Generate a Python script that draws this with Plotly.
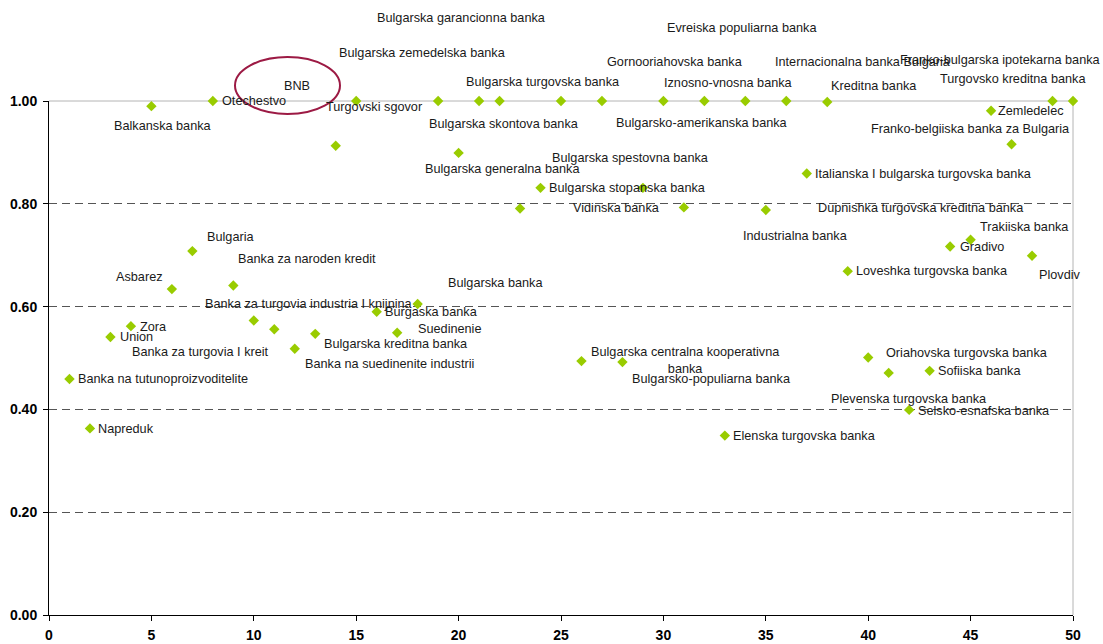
import plotly.graph_objects as go

# ---- data ----
bank_index = list(range(1, 51))
ratio = [0.459, 0.363, 0.541, 0.562, 0.990, 0.634, 0.708, 1.000, 0.641, 0.573,
         0.556, 0.518, 0.547, 0.913, 1.000, 0.590, 0.549, 0.605, 1.000, 0.899,
         1.000, 1.000, 0.791, 0.831, 1.000, 0.494, 1.000, 0.492, 0.831, 1.000,
         0.793, 1.000, 0.349, 1.000, 0.788, 1.000, 0.859, 0.998, 0.669, 0.501,
         0.471, 0.399, 0.475, 0.717, 0.730, 0.981, 0.916, 0.699, 1.000, 1.000]
bank_names = [
    "Banka na tutunoproizvoditelite", "Napreduk", "Union", "Zora", "Balkanska banka",
    "Asbarez", "Bulgaria", "Otechestvo", "Banka za naroden kredit", "Banka za turgovia I kreit",
    "Banka za turgovia industria I knijnina", "Banka na suedinenite industrii",
    "Bulgarska kreditna banka", "BNB", "Turgovski sgovor", "Burgaska banka", "Suedinenie",
    "Bulgarska banka", "Bulgarska zemedelska banka", "Bulgarska generalna banka",
    "Bulgarska garancionna banka", "Bulgarska turgovska banka", "Bulgarska skontova banka",
    "Bulgarska stopanska banka", "Bulgarska spestovna banka",
    "Bulgarska centralna kooperativna<br>banka", "Vidinska banka",
    "Bulgarsko-populiarna banka", "Gornooriahovska banka", "Evreiska populiarna banka",
    "Iznosno-vnosna banka", "Bulgarsko-amerikanska banka", "Elenska turgovska banka",
    "Internacionalna banka Bulgaria", "Kreditna banka", "Industrialna banka",
    "Italianska I bulgarska turgovska banka", "Dupnishka turgovska kreditna banka",
    "Loveshka turgovska banka", "Oriahovska turgovska banka", "Plevenska turgovska banka",
    "Selsko-esnafska banka", "Sofiiska banka", "Gradivo", "Trakiiska banka", "Zemledelec",
    "Franko-belgiiska banka za Bulgaria", "Plovdiv", "Franko-bulgarska ipotekarna banka",
    "Turgovsko kreditna banka"]
y_ticks = [0.0, 0.2, 0.4, 0.6, 0.8, 1.0]
x_ticks = [0, 5, 10, 15, 20, 25, 30, 35, 40, 45, 50]

# ---- label placement (pixel centre of each label, layout only) ----
label_px = [
    (163, 379), (126, 429), (136, 337), (153, 327), (163, 126),
    (139, 277), (230, 237), (254, 101), (307, 259), (200, 352),
    (309, 304), (389, 364), (396, 344), (297, 86), (374, 107),
    (431, 312), (450, 329), (495, 283), (422, 53), (502, 169),
    (461, 18), (543, 82), (504, 124), (627, 188), (630, 158),
    (685, 361), (616, 208), (711, 379), (675, 62), (742, 28),
    (728, 83), (702, 123), (804, 436), (863, 62), (874, 86),
    (795, 236), (923, 174), (921, 208), (932, 271), (967, 353),
    (909, 399), (984, 411), (979, 371), (982, 247), (1024, 227),
    (1031, 111), (970, 129), (1060, 275), (1000, 60), (1013, 79)]

L, R, T, B = 49, 30, 101, 29
W, H = 1103, 644
pw, ph = W - L - R, H - T - B
FONT = "Liberation Sans, Arial"

fig = go.Figure()
fig.add_trace(go.Scatter(
    x=bank_index, y=ratio, mode="markers",
    marker=dict(symbol="diamond", size=8, color="#99cc00", line=dict(width=0)),
    cliponaxis=False, hoverinfo="text", text=bank_names, showlegend=False))

annotations = []
for xi, yi, name, (lx, ly) in zip(bank_index, ratio, bank_names, label_px):
    px = L + xi / 50 * pw
    py = T + (1 - yi) * ph
    annotations.append(dict(
        x=xi, y=yi, xref="x", yref="y", text=name, showarrow=False,
        xanchor="center", yanchor="middle", align="center",
        xshift=lx - px, yshift=-(ly - py),
        font=dict(family=FONT, size=12.7, color="#1a1a1a")))

shapes = [
    # top and right plot-area border (light grey)
    dict(type="line", xref="paper", yref="paper", x0=0, x1=1, y0=1, y1=1,
         line=dict(color="#b4b4b4", width=1), layer="below"),
    dict(type="line", xref="paper", yref="paper", x0=1, x1=1, y0=0, y1=1,
         line=dict(color="#b4b4b4", width=1), layer="below"),
    # ellipse around BNB
    dict(type="circle", xref="paper", yref="paper",
         x0=(235 - L) / pw, x1=(340 - L) / pw,
         y0=(H - B - 114) / ph, y1=(H - B - 57) / ph,
         line=dict(color="#9c1a44", width=2)),
]

fig.update_layout(
    width=W, height=H,
    margin=dict(l=L, r=R, t=T, b=B, autoexpand=False),
    paper_bgcolor="white", plot_bgcolor="white",
    annotations=annotations, shapes=shapes,
    xaxis=dict(range=[0, 50], tickvals=x_ticks, ticktext=[str(v) for v in x_ticks],
               showgrid=False, zeroline=False, showline=True, linecolor="black",
               linewidth=1, ticks="outside", ticklen=5, tickcolor="black",
               ticklabelstandoff=2, automargin=False,
               tickfont=dict(family=FONT, size=14, color="black", weight="bold"),
               fixedrange=True),
    yaxis=dict(range=[0, 1], tickvals=y_ticks, ticktext=[f"{v:.2f}" for v in y_ticks],
               showgrid=True, gridcolor="#555555", griddash="8px,5px", gridwidth=1,
               zeroline=False, showline=True, linecolor="black", linewidth=1,
               ticks="outside", ticklen=5, tickcolor="black",
               ticklabelstandoff=3, automargin=False,
               tickfont=dict(family=FONT, size=14, color="black", weight="bold"),
               fixedrange=True),
)

fig.write_html("out.html")
